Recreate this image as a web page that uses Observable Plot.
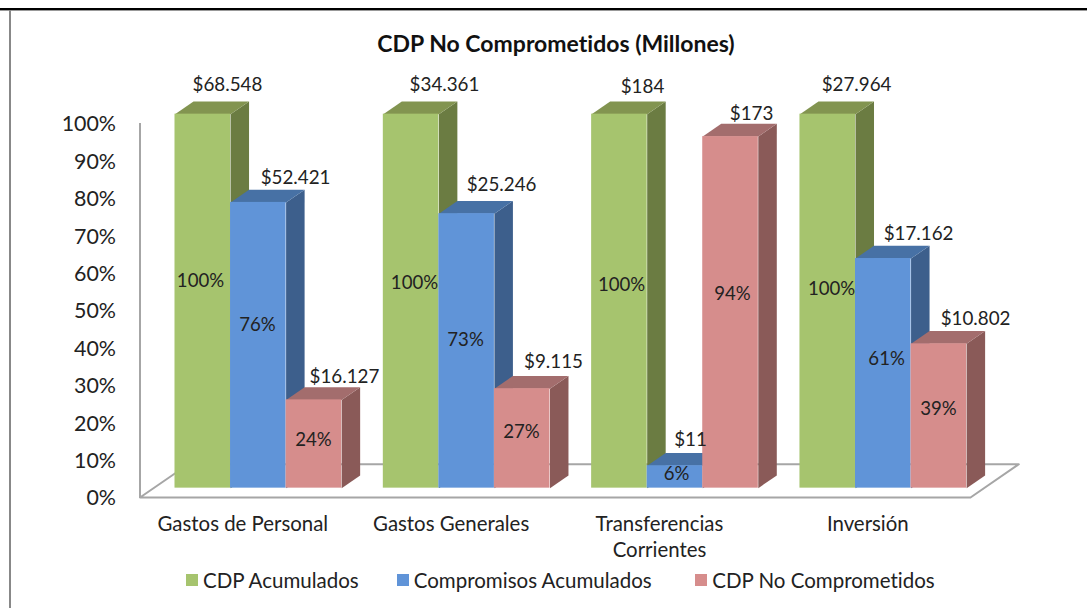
<!DOCTYPE html>
<html lang="es"><head><meta charset="utf-8">
<script src="https://cdn.jsdelivr.net/npm/d3@7"></script>
<script src="https://cdn.jsdelivr.net/npm/@observablehq/plot@0.6"></script>
<style>
html,body{margin:0;padding:0;background:#fff;width:1087px;height:608px;overflow:hidden;font-family:Lato,sans-serif;color:#222;font-variant-ligatures:none}
#topline{position:absolute;left:0;top:8px;width:1087px;height:2px;background:#000;border-bottom:1.5px solid #999}
#leftline{position:absolute;left:9px;top:10px;width:2px;height:598px;background:#888}
#title{position:absolute;left:0;width:1112px;top:30px;text-align:center;font-weight:700;font-size:23px;line-height:26px;color:#111}
#chart{position:absolute;left:0;top:0}
#legend{position:absolute;left:186px;top:568px;height:24px;display:flex;align-items:center;font-size:20.5px;white-space:nowrap;color:#222}
#legend span.k{display:inline-block;width:12px;height:12px;margin-right:5px}
svg text{font-variant-ligatures:none}
</style></head><body>
<div id="chart"></div>
<div id="topline"></div><div id="leftline"></div>
<div id="title">CDP No Comprometidos (Millones)</div>
<div id="legend"></div>
<script>
// ---- data ----
const categories = ["Gastos de Personal", "Gastos Generales", "Transferencias\nCorrientes", "Inversión"];
const seriesNames = ["CDP Acumulados", "Compromisos Acumulados", "CDP No Comprometidos"];
const acumuladosPct = [100, 100, 100, 100];
const compromisosPct = [76.4, 73.4, 6, 61.4];
const noComprometidosPct = [23.6, 26.6, 94, 38.6];
const acumuladosLabels = ["$68.548", "$34.361", "$184", "$27.964"];
const compromisosLabels = ["$52.421", "$25.246", "$11", "$17.162"];
const noComprometidosLabels = ["$16.127", "$9.115", "$173", "$10.802"];
const percentTicks = [0,10,20,30,40,50,60,70,80,90,100];

// ---- styling and label nudges (pixels), same order as the series above ----
const palette = [
  {front:"#a6c46e", side:"#6b7c42", top:"#829450"},
  {front:"#6094d8", side:"#3d5f8c", top:"#4771a5"},
  {front:"#d68d8c", side:"#8a5a58", top:"#a36d6d"}
];
const legendGaps = [38, 43.5, 0];
const moneyNudge = [
  [[24.7,-28.7],[37.2,-24.6],[30.6,-23]],
  [[33.4,-28.7],[34.9,-28.8],[31.3,-26.8]],
  [[23.1,-26.7],[15.6,-25.3],[21,-22.3]],
  [[28.8,-28.7],[35.3,-24.1],[36.7,-25.2]]
];
const pctNudge = [
  [[-2.3,-19.7],[-0.8,-20.6],[-0.4,-3.8]],
  [[3.4,-17.7],[-1.1,-11.2],[-0.7,-6.2]],
  [[2.1,-15.7],[1.6,-2.5],[2,-18]],
  [[3.8,-11.7],[3.3,-13.9],[-0.3,-7.4]]
];

// ---- layout in data units: x in bar widths, y in percent ----
const groupStep = 3.75;          // a group repeats every 3.75 bar widths
const lift = 2.5;                // bars stand this far above the floor's front edge
const depthX = 0.333, depthY = 3.4; // bar depth, seen in perspective
const floorX = 0.87, floorY = 8.9;   // floor depth
const xMin = -0.63, xMax = 14.32;   // floor's front edge

const allPct = [acumuladosPct, compromisosPct, noComprometidosPct];
const allMoney = [acumuladosLabels, compromisosLabels, noComprometidosLabels];
const bars = categories.flatMap((c, g) => allPct.map((vals, s) => {
  const x1 = g * groupStep + s, v = vals[g];
  return {g, s, x1, x2: x1 + 1, y1: lift, y2: v + lift, v, money: allMoney[s][g]};
}));
const poly = (b, kind) => (kind === "side"
  ? [[b.x2,b.y1],[b.x2,b.y2],[b.x2+depthX,b.y2+depthY],[b.x2+depthX,b.y1+depthY]]
  : [[b.x1,b.y2],[b.x2,b.y2],[b.x2+depthX,b.y2+depthY],[b.x1+depthX,b.y2+depthY]]
).map(([x,y]) => ({x, y, g: b.g}));

const barMarks = palette.flatMap((col, s) => {
  const rows = bars.filter(b => b.s === s);
  return [
    Plot.line(rows.flatMap(b => poly(b,"side")), {x:"x", y:"y", z:"g", fill:col.side, stroke:"none", curve:"linear-closed"}),
    Plot.line(rows.flatMap(b => poly(b,"top")),  {x:"x", y:"y", z:"g", fill:col.top,  stroke:"none", curve:"linear-closed"}),
    Plot.rect(rows, {x1:"x1", x2:"x2", y1:"y1", y2:"y2", fill:col.front})
  ];
});

const floor = [
  {x:xMin+floorX, y:floorY}, {x:xMin, y:0}, {x:xMax, y:0},
  {x:xMax+floorX, y:floorY}, {x:xMin+floorX, y:floorY}
];

const labelMarks = bars.flatMap(b => {
  const [mx,my] = moneyNudge[b.g][b.s], [px,py] = pctNudge[b.g][b.s];
  const cx = (b.x1+b.x2)/2;
  return [
    Plot.text([b], {x:()=>cx, y:"y2", text:"money", dx:mx, dy:my, fontSize:18.8, fill:"#222"}),
    Plot.text([b], {x:()=>cx, y:()=>(b.y1+b.y2)/2, text:d=>Math.round(d.v)+"%", dx:px, dy:py, fontSize:18.6, fill:"#222"})
  ];
});

const chart = Plot.plot({
  width:1087, height:608,
  marginLeft:139.5, marginRight:1087-970, marginTop:123, marginBottom:111,
  style:{background:"transparent", fontFamily:"Lato, sans-serif", overflow:"visible"},
  x:{domain:[xMin,xMax], axis:null},
  y:{domain:[0,100], axis:null},
  marks:[
    Plot.ruleX([xMin], {y1:0, y2:100, stroke:"#a6a6a6", strokeWidth:2}),
    Plot.line(floor, {x:"x", y:"y", stroke:"#a6a6a6", strokeWidth:2}),
    ...barMarks,
    ...labelMarks,
    Plot.axisY({ticks:percentTicks, tickSize:0, tickPadding:24, dy:1, tickFormat:d=>d+"%", fontSize:21.4, label:null, fill:"#222", anchor:"left"}),
    Plot.axisX({ticks:categories.map((c,g)=>g*groupStep+1.5), tickSize:0, tickPadding:15.5, dx:-15.5, lineHeight:1.27,
      tickFormat:(d)=>categories[Math.round((d-1.5)/groupStep)], fontSize:20.4, label:null, fill:"#222", anchor:"bottom"})
  ]
});
document.getElementById("chart").appendChild(chart);

const lg = document.getElementById("legend");
seriesNames.forEach((n,i)=>{
  const k=document.createElement("span");k.className="k";k.style.background=palette[i].front;
  const t=document.createElement("span");t.textContent=n;t.style.marginRight=legendGaps[i]+"px";
  lg.append(k,t);
});
</script></body></html>
